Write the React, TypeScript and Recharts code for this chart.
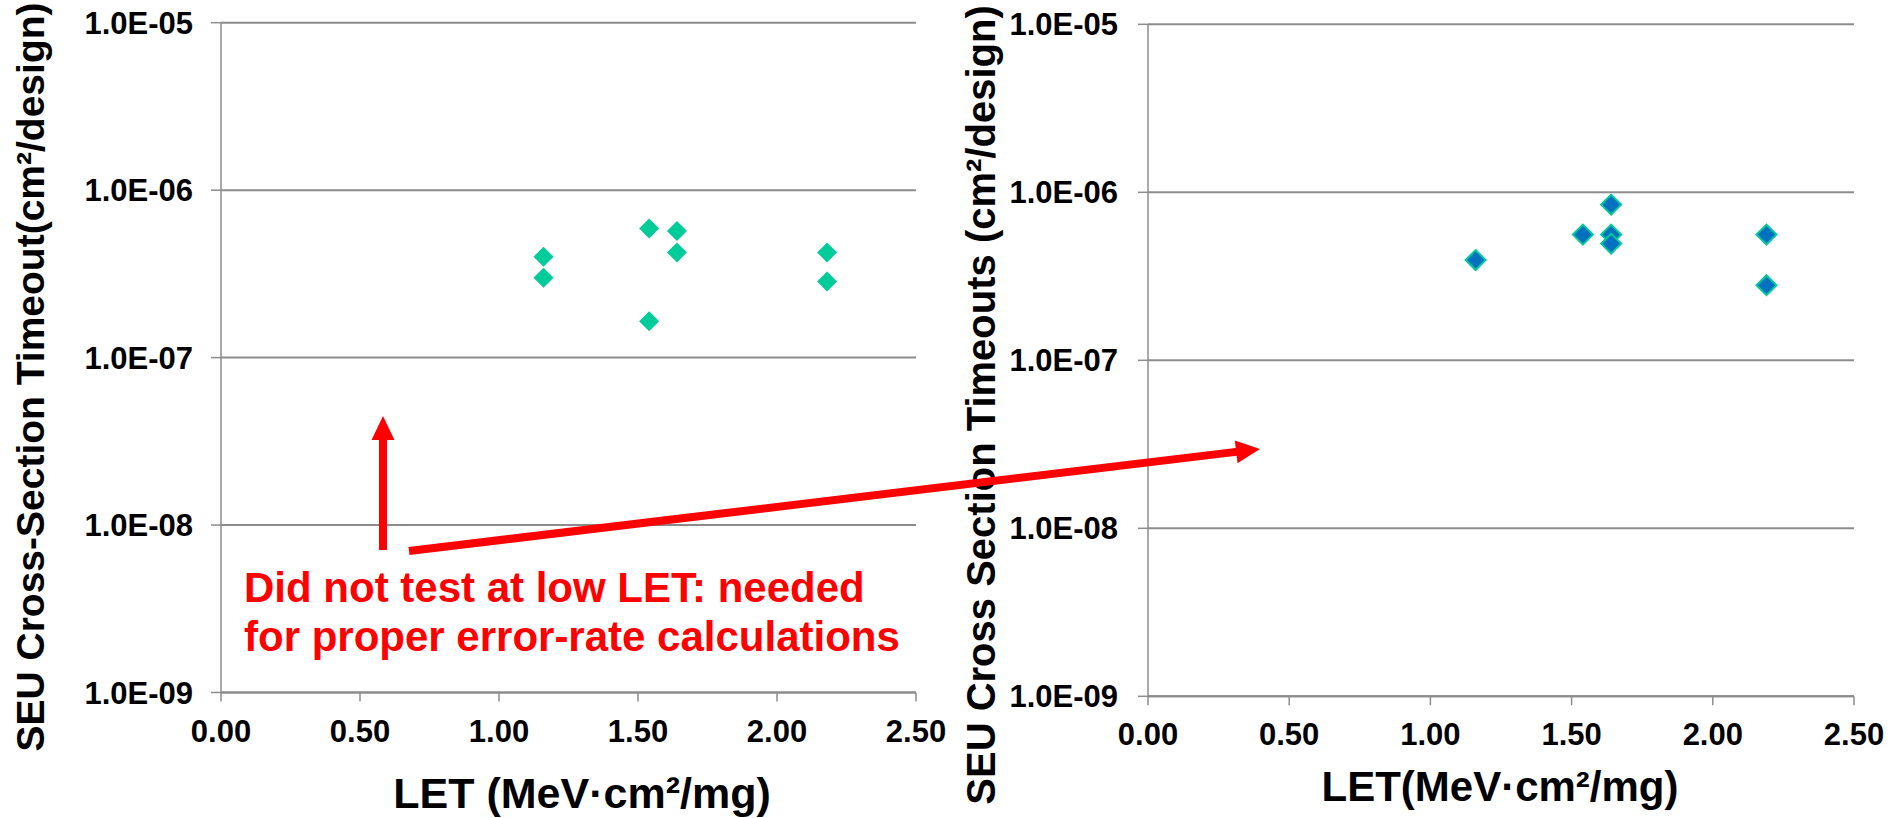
import { ScatterChart, Scatter, XAxis, YAxis, CartesianGrid, Label } from 'recharts';

const FONT = '"Liberation Sans", Arial, Helvetica, sans-serif';
const GRID = '#8c8c8c';
const TEAL = '#00cc99';
const BLUE = '#0070c0';
const RED = '#ff0000';

// axis ticks
const letTicks = [0, 0.5, 1, 1.5, 2, 2.5];
const xsTicks = [1e-9, 1e-8, 1e-7, 1e-6, 1e-5];

// left panel: LET (MeV·cm²/mg) vs timeout cross-section
const leftLet = [1.16, 1.16, 1.54, 1.54, 1.64, 1.64, 2.18, 2.18];
const leftXs = [4.0e-7, 3.0e-7, 5.9e-7, 1.65e-7, 5.7e-7, 4.25e-7, 4.25e-7, 2.85e-7];

// right panel
const rightLet = [1.16, 1.54, 1.64, 1.64, 1.64, 2.19, 2.19];
const rightXs = [3.95e-7, 5.6e-7, 8.45e-7, 5.6e-7, 4.95e-7, 5.6e-7, 2.8e-7];

const noteLines = ['Did not test at low LET: needed', 'for proper error-rate calculations'];

const toRows = (xs: number[], ys: number[]) => xs.map((x, i) => ({ let: x, xs: ys[i] }));

const sci = (v: number) => {
  const e = Math.round(Math.log10(v));
  const m = v / Math.pow(10, e);
  return `${m.toFixed(1)}E${e < 0 ? '-' : '+'}${String(Math.abs(e)).padStart(2, '0')}`;
};

const diamond = (fill: string, stroke?: string) => (props: any) => {
  const { cx, cy } = props;
  const r = 10;
  return (
    <polygon
      points={`${cx},${cy - r} ${cx + r},${cy} ${cx},${cy + r} ${cx - r},${cy}`}
      fill={fill}
      stroke={stroke || 'none'}
      strokeWidth={stroke ? 2 : 0}
    />
  );
};

interface PanelProps {
  left: number;
  width: number;
  top: number;
  axisW: number;
  axisH: number;
  right: number;
  yMargin: number;
  data: { let: number; xs: number }[];
  shape: (p: any) => any;
  yTitle: string;
  yTitleX: number;
  yTitleY: number;
  yTitleSize: number;
  xTitle: string;
  xTitleX: number;
  xTitleY: number;
  xTitleSize: number;
}

function Panel(p: PanelProps) {
  const tickStyle = { fontFamily: FONT, fontWeight: 700, fontSize: 31, fill: '#000' };
  return (
    <div style={{ position: 'absolute', left: p.left, top: 0 }}>
      <ScatterChart width={p.width} height={818} margin={{ top: p.top, right: p.right, bottom: 0, left: 0 }}>
        <CartesianGrid vertical={false} stroke={GRID} strokeWidth={2} />
        <XAxis
          type="number"
          dataKey="let"
          domain={[0, 2.5]}
          ticks={letTicks}
          interval={0}
          height={p.axisH}
          tickSize={9}
          tickMargin={18}
          tickFormatter={(v: number) => v.toFixed(2)}
          tick={tickStyle}
          axisLine={{ stroke: GRID, strokeWidth: 2 }}
          tickLine={{ stroke: GRID, strokeWidth: 1.5 }}
        >
          <Label
            content={() => (
              <text x={p.xTitleX} y={p.xTitleY} textAnchor="middle" fontFamily={FONT} fontWeight={700} fontSize={p.xTitleSize} fill="#000">
                {p.xTitle}
              </text>
            )}
          />
        </XAxis>
        <YAxis
          type="number"
          dataKey="xs"
          scale="log"
          domain={[1e-9, 1e-5]}
          allowDataOverflow
          ticks={xsTicks}
          interval={0}
          width={p.axisW}
          tickSize={10}
          tickMargin={p.yMargin}
          tickFormatter={sci}
          tick={tickStyle}
          axisLine={{ stroke: GRID, strokeWidth: 1.5 }}
          tickLine={{ stroke: GRID, strokeWidth: 1.5 }}
        >
          <Label
            content={() => (
              <text
                x={p.yTitleX}
                y={p.yTitleY}
                transform={`rotate(-90 ${p.yTitleX} ${p.yTitleY})`}
                textAnchor="middle"
                fontFamily={FONT}
                fontWeight={700}
                fontSize={p.yTitleSize}
                fill="#000"
              >
                {p.yTitle}
              </text>
            )}
          />
        </YAxis>
        <Scatter data={p.data} shape={p.shape} isAnimationActive={false} />
      </ScatterChart>
    </div>
  );
}

// arrow helper for the red annotation
function Arrow({ x1, y1, x2, y2 }: { x1: number; y1: number; x2: number; y2: number }) {
  const dx = x2 - x1;
  const dy = y2 - y1;
  const len = Math.hypot(dx, dy);
  const ux = dx / len;
  const uy = dy / len;
  const head = 24;
  const half = 11.5;
  const bx = x2 - ux * head;
  const by = y2 - uy * head;
  return (
    <g>
      <line x1={x1} y1={y1} x2={bx + ux * 2} y2={by + uy * 2} stroke={RED} strokeWidth={8} />
      <polygon
        points={`${x2},${y2} ${bx - uy * half},${by + ux * half} ${bx + uy * half},${by - ux * half}`}
        fill={RED}
      />
    </g>
  );
}

export default function App() {
  return (
    <div style={{ position: 'absolute', left: 0, top: 0, width: 1893, height: 818, background: '#fff', overflow: 'hidden' }}>
      <Panel
        left={0}
        width={950}
        top={22.7}
        axisW={221}
        axisH={125.5}
        right={34}
        yMargin={18}
        data={toRows(leftLet, leftXs)}
        shape={diamond(TEAL)}
        yTitle="SEU Cross-Section Timeout(cm²/design)"
        yTitleX={44}
        yTitleY={377}
        yTitleSize={39}
        xTitle="LET (MeV·cm²/mg)"
        xTitleX={582}
        xTitleY={808}
        xTitleSize={43}
      />
      <Panel
        left={940}
        width={953}
        top={24.3}
        axisW={208}
        axisH={121.7}
        right={39}
        yMargin={20}
        data={toRows(rightLet, rightXs)}
        shape={diamond(BLUE, TEAL)}
        yTitle="SEU Cross Section Timeouts (cm²/design)"
        yTitleX={55}
        yTitleY={405}
        yTitleSize={40}
        xTitle="LET(MeV·cm²/mg)"
        xTitleX={560}
        xTitleY={801}
        xTitleSize={42}
      />
      <svg width={1893} height={818} style={{ position: 'absolute', left: 0, top: 0, pointerEvents: 'none' }}>
        <Arrow x1={383} y1={550} x2={383} y2={416} />
        <Arrow x1={409} y1={551} x2={1260} y2={449} />
        {noteLines.map((t, i) => (
          <text key={t} x={244} y={602 + i * 49} fontFamily={FONT} fontWeight={700} fontSize={42} fill={RED}>
            {t}
          </text>
        ))}
      </svg>
    </div>
  );
}
